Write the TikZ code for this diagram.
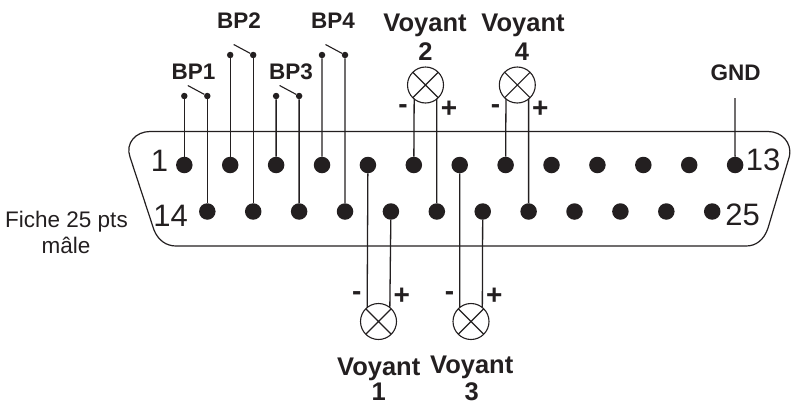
\documentclass[tikz,border=0pt]{standalone}
\usepackage{fontspec}
\setmainfont{Liberation Sans}
\definecolor{ink}{HTML}{231F20}
\tikzset{
  x=1pt,y=-1pt,
  wire/.style={draw=ink,line width=1.3pt},
  shell/.style={draw=ink,line width=1.2pt},
  pin/.style={circle,fill=ink,inner sep=0pt,minimum size=16.5pt},
  contact/.style={circle,fill=ink,inner sep=0pt,minimum size=6.5pt},
  lamp/.style={circle,draw=ink,line width=1.1pt,fill=white,inner sep=0pt,minimum size=36pt,outer sep=0pt},
  lbl/.style={anchor=base,inner sep=0pt,text=ink,font=\bfseries\fontsize{22.5}{24}\selectfont},
  vlbl/.style={anchor=base,inner sep=0pt,text=ink,font=\bfseries\fontsize{25.5}{26}\selectfont},
  sign/.style={anchor=center,inner sep=0pt,text=ink,font=\bfseries\fontsize{28}{29}\selectfont},
  num/.style={anchor=base,inner sep=0pt,text=ink,font=\fontsize{31}{32}\selectfont},
  captxt/.style={anchor=base,inner sep=0pt,text=ink,font=\fontsize{22.5}{24}\selectfont},
}
\newcommand{\lampcross}[1]{\draw[ink,line width=1.1pt] (#1.45)--(#1.225) (#1.135)--(#1.315);}
\begin{document}
\begin{tikzpicture}
\useasboundingbox (0,0) rectangle (791,405);
% shell
\draw[shell] (150,131.5) -- (768,131.5)
  .. controls (782,131.5) and (792,143) .. (789.5,156)
  -- (768,228)
  .. controls (764,240) and (756,246) .. (746,246)
  -- (176,246)
  .. controls (166,246) and (158,240) .. (154,230)
  -- (130,157)
  .. controls (125,143) and (136,131.5) .. (150,131.5) -- cycle;
% pins
\foreach \i in {1,...,13} {
  \pgfmathsetmacro{\px}{184.3+45.9*(\i-1)}
  \node[pin] (p\i) at (\px,165) {};
}
\foreach \i in {14,...,25} {
  \pgfmathsetmacro{\px}{207.3+45.9*(\i-14)}
  \node[pin] (p\i) at (\px,211.5) {};
}
% switches
\foreach \n/\a/\b/\xa/\xb/\yy in {1/1/14/184.3/207.3/96,2/2/15/230.2/253.2/55,3/3/16/276.1/299.1/96,4/4/17/322/345/55} {
  \node[contact] (sa\n) at (\xa,\yy) {};
  \node[contact] (sb\n) at (\xb,\yy) {};
  \coordinate (bl\n) at (\xa+3.5,\yy-10.5);
  \draw[wire] (p\a) -- (sa\n);
  \draw[wire] (p\b) -- (sb\n);
  \draw[ink,line width=1.1pt] (sb\n) -- (bl\n);
}
% lamps
\node[lamp] (v2) at (425.5,85) {};
\node[lamp] (v4) at (517.3,85) {};
\node[lamp] (v1) at (378.5,321.5) {};
\node[lamp] (v3) at (471,321.5) {};
\draw[wire] (p6) -- (v2.231);
\draw[wire] (p19) -- (v2.309);
\draw[wire] (p8) -- (v4.231);
\draw[wire] (p21) -- (v4.309);
\draw[wire] (p5) -- (v1.129);
\draw[wire] (p18) -- (v1.51);
\draw[wire] (p7) -- (v3.129);
\draw[wire] (p20) -- (v3.51);
\lampcross{v1}\lampcross{v2}\lampcross{v3}\lampcross{v4}
% gnd
\coordinate (gndend) at (735,98);
\draw[wire] (p13) -- (gndend);
% labels
\node[lbl] (tb1) at (193.5,79.5) {BP1};
\node[lbl] (tb2) at (239,28) {BP2};
\node[lbl] (tb3) at (291,79.5) {BP3};
\node[lbl] (tb4) at (333,28) {BP4};
\node[lbl] (tgnd) at (735.5,80) {GND};
\node[vlbl] (tv2) at (425,31) {Voyant};
\node[vlbl] (tv2n) at (425.5,60) {2};
\node[vlbl] (tv4) at (523,31) {Voyant};
\node[vlbl] (tv4n) at (522,60) {4};
\node[vlbl] (tv1) at (378.7,375) {Voyant};
\node[vlbl] (tv1n) at (378.7,400.5) {1};
\node[vlbl] (tv3) at (471.7,373) {Voyant};
\node[vlbl] (tv3n) at (471.7,400) {3};
\node[sign] (m2) at (403,109) {-};
\node[sign] (pl2) at (449,109) {+};
\node[sign] (m4) at (495.5,109) {-};
\node[sign] (pl4) at (540.3,109) {+};
\node[sign] (m1) at (356.7,296) {-};
\node[sign] (pl1) at (401.7,296) {+};
\node[sign] (m3) at (449.5,296) {-};
\node[sign] (pl3) at (494.3,296) {+};
\node[num] (n1) at (159.5,171) {1};
\node[num] (n14) at (170.7,226) {14};
\node[num] (n13) at (763,170) {13};
\node[num] (n25) at (742.7,225) {25};
\node[captxt] (c1) at (66.5,227) {Fiche 25 pts};
\node[captxt] (c2) at (66,253) {mâle};
\end{tikzpicture}
\end{document}
